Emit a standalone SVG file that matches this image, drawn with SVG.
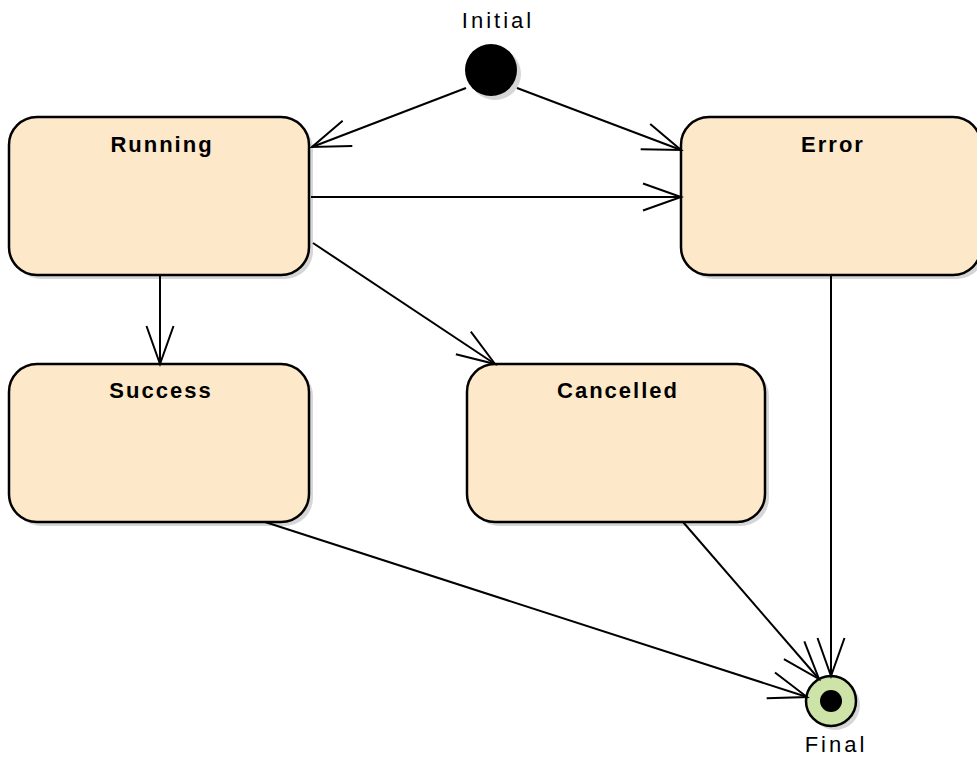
<svg xmlns="http://www.w3.org/2000/svg" width="977" height="761" viewBox="0 0 977 761">
<style>
.box{fill:#fde9c9;stroke:#000;stroke-width:2.5}
.shadow{fill:#d6d6d6}
.title{font-family:"Liberation Sans",Arial,sans-serif;font-weight:bold;font-size:22px;letter-spacing:2px;text-anchor:middle;fill:#000}
.lbl{font-family:"Liberation Sans",Arial,sans-serif;font-size:22px;letter-spacing:3px;text-anchor:middle;fill:#000}
.edge{fill:none;stroke:#000;stroke-width:2;marker-end:url(#arr)}
</style>
<defs>
<marker id="arr" markerUnits="userSpaceOnUse" markerWidth="50" markerHeight="40" viewBox="-40 -20 50 40" refX="0" refY="0" orient="auto">
<path d="M-38,-13.5 L0,0 L-38,13.5" fill="none" stroke="#000" stroke-width="2"/>
</marker>
</defs>
<rect width="977" height="761" fill="#fff"/>
<g id="initial">
<circle cx="495" cy="74" r="26" class="shadow"/>
<circle cx="491" cy="70" r="26" fill="#000"/>
<text x="498" y="28" class="lbl">Initial</text>
</g>
<g id="running">
<rect x="13" y="121" width="300" height="158" rx="28" class="shadow"/>
<rect x="9" y="117" width="300" height="158" rx="28" class="box"/>
<text x="162" y="152" class="title">Running</text>
</g>
<g id="error">
<rect x="685" y="121" width="300" height="158" rx="28" class="shadow"/>
<rect x="681" y="117" width="300" height="158" rx="28" class="box"/>
<text x="833" y="152" class="title">Error</text>
</g>
<g id="success">
<rect x="13" y="368" width="300" height="158" rx="28" class="shadow"/>
<rect x="9" y="364" width="300" height="158" rx="28" class="box"/>
<text x="161" y="398" class="title">Success</text>
</g>
<g id="cancelled">
<rect x="471" y="368" width="298" height="158" rx="28" class="shadow"/>
<rect x="467" y="364" width="298" height="158" rx="28" class="box"/>
<text x="618" y="398" class="title">Cancelled</text>
</g>
<g id="final">
<circle cx="835" cy="705" r="25" class="shadow"/>
<circle cx="831" cy="701" r="25" fill="#cde3a8" stroke="#000" stroke-width="2.5"/>
<circle cx="831" cy="701" r="11" fill="#000"/>
<text x="836" y="752" class="lbl">Final</text>
</g>
<g id="connectors">
<line x1="466" y1="88" x2="312" y2="147" class="edge"/>
<line x1="517" y1="88" x2="681" y2="150" class="edge"/>
<line x1="311" y1="197" x2="681" y2="197" class="edge"/>
<line x1="160" y1="276" x2="160" y2="364" class="edge"/>
<line x1="313" y1="243" x2="495" y2="364" class="edge"/>
<line x1="831" y1="276" x2="831" y2="676" class="edge"/>
<line x1="683" y1="522" x2="819" y2="679" class="edge"/>
<line x1="265" y1="522" x2="807" y2="697" class="edge"/>
</g>
</svg>
